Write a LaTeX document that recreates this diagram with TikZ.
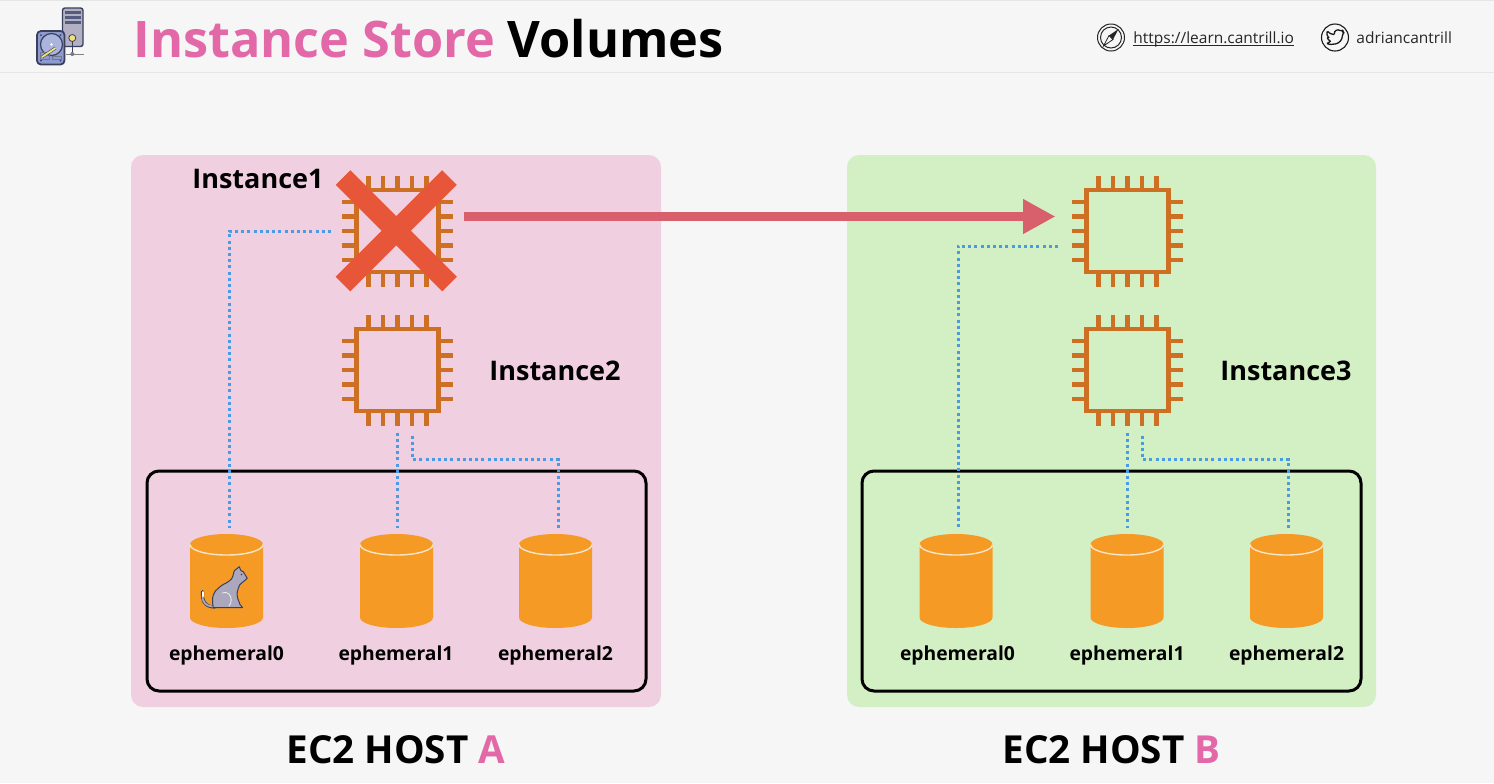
\documentclass[tikz,border=0pt]{standalone}
\usepackage{fontspec}
\setmainfont{Open Sans}
\usetikzlibrary{arrows.meta,shapes.geometric,calc}
\definecolor{pagebg}{HTML}{F6F6F6}
\definecolor{headline}{HTML}{E5E5E5}
\definecolor{pinkbg}{HTML}{F0CFE0}
\definecolor{greenbg}{HTML}{D3F0C4}
\definecolor{titlepink}{HTML}{E268A8}
\definecolor{chipc}{HTML}{CE7024}
\definecolor{cylc}{HTML}{F59A24}
\definecolor{cyltop}{HTML}{F9E6C8}
\definecolor{dotc}{HTML}{4A9BE4}
\definecolor{arrowc}{HTML}{D8606C}
\definecolor{crossc}{HTML}{E8563A}
\definecolor{iconblue}{HTML}{8E9BD0}
\definecolor{icondark}{HTML}{3A3F5C}
\definecolor{icongrey}{HTML}{B4B0C4}
\definecolor{iconyel}{HTML}{F3E27A}
\definecolor{catc}{HTML}{ABA8BE}
\tikzset{
  x=0.5pt,y=-0.5pt,
  hostbox/.style={rounded corners=6pt},
  diskgroup/.style={draw=black,line width=1.5pt,rounded corners=6pt},
  chipnode/.style={minimum size=55.5pt,inner sep=0pt,outer sep=0pt},
  chipline/.style={draw=chipc,line width=2.2pt},
  volnode/.style={minimum width=36.5pt,minimum height=47pt,inner sep=0pt,outer sep=0pt},
  conn/.style={draw=dotc,line width=1.5pt,dash pattern=on 1.5pt off 1.6pt,shorten >=3pt},
  migrate/.style={draw=arrowc,line width=4.8pt,-{Triangle[length=16.2pt,width=16.4pt]}},
  crossbar/.style={draw=crossc,line width=10.4pt},
  voltext/.style={font=\bfseries\fontsize{9.65}{12}\selectfont,text=black,inner sep=0pt},
  insttext/.style={font=\bfseries\fontsize{13.5}{16}\selectfont,text=black,inner sep=0pt},
  hosttext/.style={font=\bfseries\fontsize{19.3}{22}\selectfont,text=black,inner sep=0pt},
  titletext/.style={font=\bfseries\fontsize{25.2}{30}\selectfont,inner sep=0pt},
  linktext/.style={font=\fontsize{7.75}{10}\selectfont,text=black!85,inner sep=0pt},
}
\newcommand{\chipat}[3]{%
  \node[chipnode] (#1) at (#2,#3) {};
  \draw[chipline] (#2-41,#3-41) rectangle (#2+41,#3+41);
  \foreach \d in {-29,-14.5,0,14.5,29}{
    \draw[chipline] (#2+\d,#3-41) -- (#2+\d,#3-55.5);
    \draw[chipline] (#2+\d,#3+41) -- (#2+\d,#3+55.5);
    \draw[chipline] (#2-41,#3+\d) -- (#2-55.5,#3+\d);
    \draw[chipline] (#2+41,#3+\d) -- (#2+55.5,#3+\d);
  }}
\newcommand{\volat}[4]{%
  \node[volnode] (#1) at (#2,581) {};
  \fill[cylc] (#2-36.5,544.5) -- (#2-36.5,617.5) arc[start angle=180,end angle=360,x radius=36.5,y radius=-10.5] -- (#2+36.5,544.5) -- cycle;
  \fill[cylc] (#2,544.5) ellipse[x radius=36.5,y radius=10.5];
  \draw[cyltop,line width=0.7pt] (#2-36.5,544.5) arc[start angle=180,end angle=360,x radius=36.5,y radius=-10.5];
  \node[voltext,anchor=base] (#1t) at (#4,660) {#3};}
\begin{document}
\begin{tikzpicture}
\useasboundingbox (0,0) rectangle (1494,783);
\fill[pagebg] (0,0) rectangle (1494,783);
\draw[headline,line width=0.6pt] (0,72.5) -- (1494,72.5);
\draw[headline,line width=0.6pt] (0,0.5) -- (1494,0.5);
% title
\node[titletext,anchor=base west,text=titlepink] (t1) at (133,57) {Instance Store};
\node[titletext,anchor=base west,text=black] (t2) at (507.5,57) {Volumes};
% server icon
\draw[icondark,fill=icongrey,line width=0.7pt,rounded corners=1.2pt] (62.5,8) rectangle (83,46.5);
\foreach \y in {10.5,15.5,21}{\fill[icondark!70!iconblue] (64.5,\y) rectangle (80.5,\y+3);}
\draw[icondark,line width=0.4pt] (72.3,42) -- (72.3,54);
\draw[black!50,line width=0.4pt] (66,54) -- (84,54);
\fill[icondark!70] (72.3,54) circle[radius=2];
\draw[icondark,line width=0.4pt,fill=iconyel] (72.3,38) circle[radius=3.5];
% disk icon
\draw[icondark,fill=iconblue,line width=0.9pt,rounded corners=2pt] (37,31) rectangle (64.5,64.5);
\fill[icondark] (41,35) circle[radius=1] (60.5,35) circle[radius=1] (41,60.5) circle[radius=1] (60.5,60.5) circle[radius=1];
\draw[icondark,fill=iconblue!75!white,line width=0.6pt] (51.5,44.5) circle[radius=11];
\fill[white] (51.5,44.5) circle[radius=1.3];
\draw[icondark!70,line width=0.5pt] (40.5,52) rectangle (49.5,59);
\draw[icondark!70,line width=0.5pt] (52,56.5) rectangle (61,59);
\draw[icondark,line width=1.4pt] (42,57) -- (55.5,48);
\draw[iconyel,line width=0.9pt] (42,57) -- (55.5,48);
% link icons and text
\draw[black!85,line width=0.5pt] (1111,37.5) circle[radius=13.5];
\draw[black!85,line width=0.5pt] (1111,37.5) circle[radius=10.5];
\fill[black!85] (1118.5,29) -- (1113,39.5) -- (1109,35.5) -- cycle;
\draw[black!85,line width=0.4pt] (1103.5,46) -- (1113,39.5) -- (1109,35.5) -- cycle;
\node[linktext,anchor=base west] (url) at (1133,43) {https://learn.cantrill.io};
\draw[black!85,line width=0.45pt] ([yshift=-1pt]url.base west) -- ([yshift=-1pt]url.base east);
\draw[black!90,line width=0.55pt] (1335,37.5) circle[radius=13.5];
\draw[black!90,line width=0.65pt,rounded corners=0.5pt]
  (1327,43.5) .. controls (1331,45.5) and (1342,45) .. (1342.5,34.5) -- (1344.5,32) -- (1342,32.5) -- (1343.5,30)
  -- (1340.5,31) .. controls (1338,29) and (1334,30.5) .. (1334.5,34.5)
  .. controls (1331.5,34.5) and (1329,33) .. (1327.5,31) .. controls (1326.5,33.5) and (1327,36) .. (1329,37.5)
  -- (1327.5,37) .. controls (1327.5,39) and (1329,40.5) .. (1331,41) .. controls (1330,41.5) and (1329,42.5) .. (1327,43.5);
\node[linktext,anchor=base west] (tw) at (1356,43) {adriancantrill};
% hosts
\fill[pinkbg,hostbox] (131,155) rectangle (661,707);
\fill[greenbg,hostbox] (847,155) rectangle (1376,707);
\draw[diskgroup] (147,471) rectangle (646,691);
\draw[diskgroup] (862,471) rectangle (1361,691);
% chips
\chipat{ia}{397.5}{231}
\chipat{ib}{397.5}{370}
\chipat{ic}{1127.5}{231}
\chipat{id}{1127.5}{370}
% volumes
\volat{va}{226.5}{ephemeral0}{226.5}
\volat{vb}{396.5}{ephemeral1}{396}
\volat{vc}{555.5}{ephemeral2}{555.5}
\volat{vd}{956}{ephemeral0}{957.5}
\volat{ve}{1127}{ephemeral1}{1127}
\volat{vf}{1286.5}{ephemeral2}{1286.5}
% cat
\draw[icondark,line width=1.6pt,line cap=round] (202.6,591.5) .. controls (201.5,601) and (205,607) .. (215,607);
\draw[catc,line width=0.9pt,line cap=round] (202.6,596) .. controls (202,601) and (205,606.6) .. (215,606.6);
\draw[white,line width=1pt,line cap=round] (202.6,592) -- (202.6,596);
\draw[icondark,fill=catc,line width=0.5pt,line join=round]
  (213.3,607.5) .. controls (211,597) and (214,591) .. (218.3,588.3)
  .. controls (221,585) and (226,583.5) .. (228.3,581.7)
  .. controls (231,580) and (232.5,578) .. (232.7,576.7)
  -- (234.3,570.7) -- (239.3,566.7) -- (240.8,570.5) -- (243.3,571.7)
  -- (247.3,578.3) -- (243.3,581.7) .. controls (240,584) and (238.5,586) .. (238.3,588.3)
  .. controls (236.5,593) and (237,596) .. (237.7,598.3) -- (240,604.5) -- (242.5,607.5) -- cycle;
\draw[white!80!catc,line width=0.4pt] (222,593) .. controls (230,590) and (234,600) .. (229,606);
\fill[icondark] (241.5,574.5) circle[radius=0.8];
% connectors
\coordinate (ka) at ($(va.north)+(2.5,0)$);
\coordinate (kd) at ($(vd.north)+(2,0)$);
\coordinate (kc) at ($(vc.north)+(2.8,0)$);
\coordinate (kf) at ($(vf.north)+(1.5,0)$);
\coordinate (kb) at ($(ib.south)+(14.8,0)$);
\coordinate (ke) at ($(id.south)+(14.8,0)$);
\draw[conn,shorten <=5.5pt] (ia.west) -| (ka);
\draw[conn,shorten <=3.5pt] (ib.south) -- (vb.north -| ib.south);
\draw[conn,shorten <=5pt] (kb) |- ($(kc)+(0,-74.5)$) -- (kc);
\draw[conn,shorten <=7pt] ($(ic.west)+(0,15)$) -| (kd);
\draw[conn,shorten <=3.5pt] (id.south) -- (ve.north -| id.south);
\draw[conn,shorten <=5pt] (ke) |- ($(kf)+(0,-74.5)$) -- (kf);
% migration arrow
\draw[migrate,shorten <=5.5pt,shorten >=8.3pt] ($(ia.east)+(0,-14.5)$) -- ($(ic.west)+(0,-14.5)$);
% failed cross
\draw[crossbar] (343,177.5) -- (449.5,284);
\draw[crossbar] (449.5,177.5) -- (343,284);
% labels
\node[insttext,anchor=base west] (l1) at (192,188) {Instance1};
\node[insttext,anchor=base west] (l2) at (489,380) {Instance2};
\node[insttext,anchor=base west] (l3) at (1220,380) {Instance3};
\node[hosttext,anchor=base west] (ha) at (286,763) {EC2 HOST \textcolor{titlepink}{A}};
\node[hosttext,anchor=base west] (hb) at (1002,763) {EC2 HOST \textcolor{titlepink}{B}};
\end{tikzpicture}
\end{document}
